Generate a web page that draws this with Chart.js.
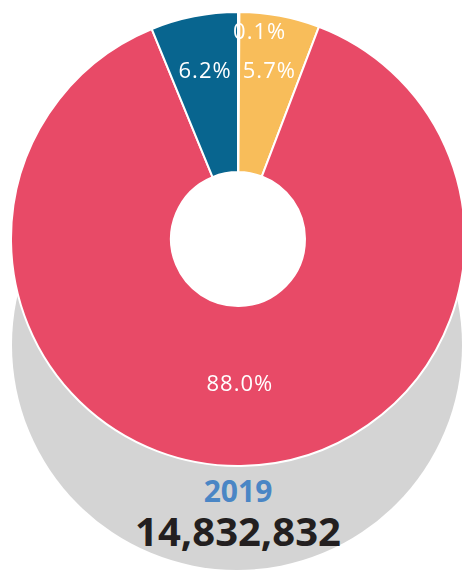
<!DOCTYPE html>
<html>
<head>
<meta charset="utf-8">
<script src="https://cdn.jsdelivr.net/npm/chart.js@4/dist/chart.umd.min.js"></script>
<style>
  html, body { margin: 0; padding: 0; width: 462px; height: 581px; overflow: hidden; background: #fff; }
  .disc { position: absolute; left: 12px; top: 120px; width: 450px; height: 450px; border-radius: 50%; background: #d4d4d4; }
  .wrap { position: absolute; left: 10px; top: 11px; width: 456px; height: 456px; }
  .year { position: absolute; left: 0; width: 476px; top: 470px; text-align: center; font: bold 30px "Open Sans", sans-serif; color: #4a86c5; }
  .total { position: absolute; left: 0; width: 476px; top: 503px; text-align: center; font: bold 40px "Open Sans", sans-serif; color: #231f20; }
</style>
</head>
<body>
<div class="disc"></div>
<div class="wrap"><canvas id="myChart"></canvas></div>
<div class="year">2019</div>
<div class="total">14,832,832</div>
<script>
const categories = ['Other', 'Segment A', 'Segment B', 'Segment C'];
const shares = [0.1, 5.7, 88.0, 6.2];
const sliceColors = ['#9fc5e0', '#f8bd5a', '#e84a67', '#08658f'];

// label placement: radius (px from centre) and extra x nudge
const labelRadius = [206, 170, 146, 170];
const labelNudgeX = [21, 0, 0, 0];

// white hole in the middle, the grey disc must not show through
const holePlugin = {
  id: 'whiteHole',
  beforeDatasetsDraw(chart) {
    const arc = chart.getDatasetMeta(0).data[0];
    if (!arc) return;
    const ctx = chart.ctx;
    ctx.save();
    ctx.fillStyle = '#ffffff';
    ctx.beginPath();
    ctx.arc(arc.x, arc.y, arc.innerRadius + 1, 0, Math.PI * 2);
    ctx.fill();
    ctx.restore();
  },
};

const labelPlugin = {
  id: 'sliceLabels',
  afterDatasetsDraw(chart) {
    const ctx = chart.ctx;
    const meta = chart.getDatasetMeta(0);
    ctx.save();
    ctx.fillStyle = '#ffffff';
    ctx.font = '22px "Open Sans", sans-serif';
    ctx.letterSpacing = '1px';
    ctx.textAlign = 'center';
    ctx.textBaseline = 'middle';
    meta.data.forEach((arc, i) => {
      const mid = (arc.startAngle + arc.endAngle) / 2;
      const x = arc.x + Math.cos(mid) * labelRadius[i] + labelNudgeX[i];
      const y = arc.y + Math.sin(mid) * labelRadius[i];
      ctx.fillText(shares[i].toFixed(1) + '%', x, y);
    });
    ctx.restore();
  },
};

const myChart = new Chart(document.getElementById('myChart'), {
  type: 'doughnut',
  data: {
    labels: categories,
    datasets: [
      {
        data: shares,
        backgroundColor: sliceColors,
        borderColor: '#ffffff',
        borderWidth: 2,
      },
    ],
  },
  options: {
    responsive: true,
    maintainAspectRatio: false,
    animation: false,
    cutout: '29.5%',
    layout: { padding: 0 },
    plugins: {
      legend: { display: false },
      tooltip: { enabled: false },
    },
  },
  plugins: [holePlugin, labelPlugin],
});
</script>
</body>
</html>
